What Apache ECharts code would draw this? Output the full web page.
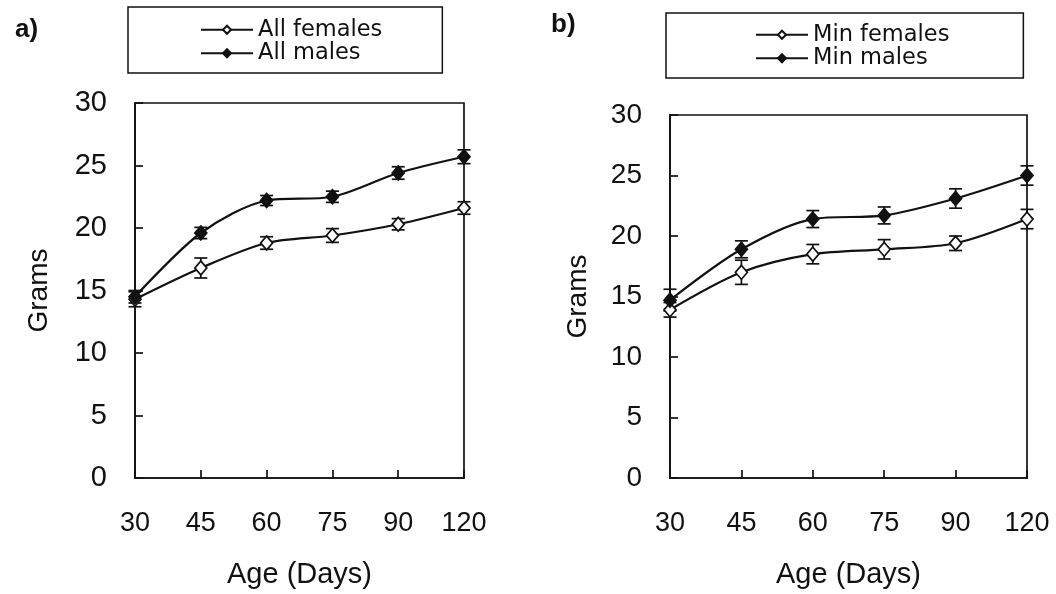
<!DOCTYPE html>
<html>
<head>
<meta charset="utf-8">
<script src="https://cdn.jsdelivr.net/npm/echarts@6/dist/echarts.min.js"></script>
<style>
  html, body { margin: 0; padding: 0; background: #fff; }
  #chart { width: 1056px; height: 594px; }
</style>
</head>
<body>
<div id="chart"></div>
<script>
// Body weight by age, two panels: all animals (a) and minimum group (b)
const ages = ['30', '45', '60', '75', '90', '120'];
const yTicks = { min: 0, max: 30, interval: 5 };

const allFemales    = [14.3, 16.8, 18.8, 19.4, 20.3, 21.6];
const allFemalesErr = [0.6, 0.8, 0.5, 0.55, 0.45, 0.5];
const allMales      = [14.5, 19.6, 22.2, 22.5, 24.4, 25.7];
const allMalesErr   = [0.5, 0.45, 0.4, 0.45, 0.5, 0.55];

const minFemales    = [13.9, 17.0, 18.5, 18.9, 19.4, 21.4];
const minFemalesErr = [0.6, 1.0, 0.8, 0.8, 0.6, 0.8];
const minMales      = [14.7, 18.9, 21.4, 21.7, 23.1, 25.0];
const minMalesErr   = [0.9, 0.7, 0.7, 0.7, 0.8, 0.8];

const FONT = '"Liberation Sans", Arial, sans-serif';
const INK = '#111';

function errorData(values, errs) {
  return values.map((v, i) => [i, v - errs[i], v + errs[i]]);
}

function errorBars(name, values, errs, axis) {
  return {
    type: 'custom',
    name: name + ' SE',
    xAxisIndex: axis, yAxisIndex: axis,
    z: 1,
    silent: true,
    data: errorData(values, errs),
    renderItem: function (params, api) {
      const lo = api.coord([api.value(0), api.value(1)]);
      const hi = api.coord([api.value(0), api.value(2)]);
      const cap = 6.5;
      const style = { stroke: INK, lineWidth: 1.7 };
      return {
        type: 'group',
        children: [
          { type: 'line', shape: { x1: lo[0], y1: lo[1], x2: hi[0], y2: hi[1] }, style: style },
          { type: 'line', shape: { x1: lo[0] - cap, y1: lo[1], x2: lo[0] + cap, y2: lo[1] }, style: style },
          { type: 'line', shape: { x1: hi[0] - cap, y1: hi[1], x2: hi[0] + cap, y2: hi[1] }, style: style }
        ]
      };
    }
  };
}

function lineSeries(name, values, filled, axis) {
  return {
    type: 'line',
    name: name,
    xAxisIndex: axis, yAxisIndex: axis,
    z: 3,
    data: values,
    smooth: 0.3,
    symbol: 'diamond',
    symbolSize: [12, 14],
    lineStyle: { color: INK, width: 2.2 },
    itemStyle: { color: filled ? INK : '#fff', borderColor: INK, borderWidth: 1.7 }
  };
}

function xAxis(gridIndex) {
  return {
    type: 'category',
    gridIndex: gridIndex,
    data: ages,
    boundaryGap: false,
    name: 'Age (Days)',
    nameLocation: 'middle',
    nameGap: 82,
    nameTextStyle: { fontFamily: FONT, fontSize: 29, color: INK },
    axisLine: { lineStyle: { color: INK, width: 1.7 } },
    axisTick: { inside: true, length: 8, lineStyle: { color: INK, width: 1.7 } },
    axisLabel: { margin: 32, fontFamily: FONT, fontSize: 27, color: INK },
    splitLine: { show: false }
  };
}

function yAxis(gridIndex, gap, fs) {
  return {
    type: 'value',
    gridIndex: gridIndex,
    min: yTicks.min, max: yTicks.max, interval: yTicks.interval,
    name: 'Grams',
    nameLocation: 'middle',
    nameRotate: 90,
    nameGap: gap,
    nameTextStyle: { fontFamily: FONT, fontSize: 28, color: INK },
    axisLine: { show: true, lineStyle: { color: INK, width: 1.7 } },
    axisTick: { show: true, inside: true, length: 8, lineStyle: { color: INK, width: 1.7 } },
    axisLabel: { margin: 28, fontFamily: FONT, fontSize: fs, color: INK },
    splitLine: { show: false }
  };
}

function legend(names, box) {
  return {
    data: names,
    orient: 'vertical',
    left: box.left, top: box.top,
    padding: box.padding,
    itemGap: 0,
    itemWidth: 52,
    itemHeight: 10,
    borderColor: INK,
    borderWidth: 1.5,
    selectedMode: false,
    textStyle: { fontFamily: '"DejaVu Sans", sans-serif', fontSize: 22.5, color: INK, lineHeight: 23.5 }
  };
}

const chart = echarts.init(document.getElementById('chart'), null, { renderer: 'canvas' });

chart.setOption({
  backgroundColor: '#fff',
  animation: false,
  title: [
    { text: 'a)', left: 10, top: 12, textStyle: { fontFamily: FONT, fontSize: 26, fontWeight: 'bold', color: INK } },
    { text: 'b)', left: 546, top: 7, textStyle: { fontFamily: FONT, fontSize: 26, fontWeight: 'bold', color: INK } }
  ],
  legend: [
    legend(['All females', 'All males'], { left: 128, top: 7, padding: [11, 60, 8, 72] }),
    legend(['Min females', 'Min males'], { left: 666, top: 13, padding: [10, 74, 8, 89] })
  ],
  grid: [
    { left: 135, top: 103, width: 329, height: 375, show: true, borderColor: INK, borderWidth: 1.7, backgroundColor: 'transparent' },
    { left: 670, top: 115, width: 357, height: 363, show: true, borderColor: INK, borderWidth: 1.7, backgroundColor: 'transparent' }
  ],
  xAxis: [xAxis(0), xAxis(1)],
  yAxis: [yAxis(0, 82, 29), yAxis(1, 78, 28)],
  series: [
    errorBars('All females', allFemales, allFemalesErr, 0),
    errorBars('All males', allMales, allMalesErr, 0),
    lineSeries('All females', allFemales, false, 0),
    lineSeries('All males', allMales, true, 0),
    errorBars('Min females', minFemales, minFemalesErr, 1),
    errorBars('Min males', minMales, minMalesErr, 1),
    lineSeries('Min females', minFemales, false, 1),
    lineSeries('Min males', minMales, true, 1)
  ]
});
</script>
</body>
</html>
